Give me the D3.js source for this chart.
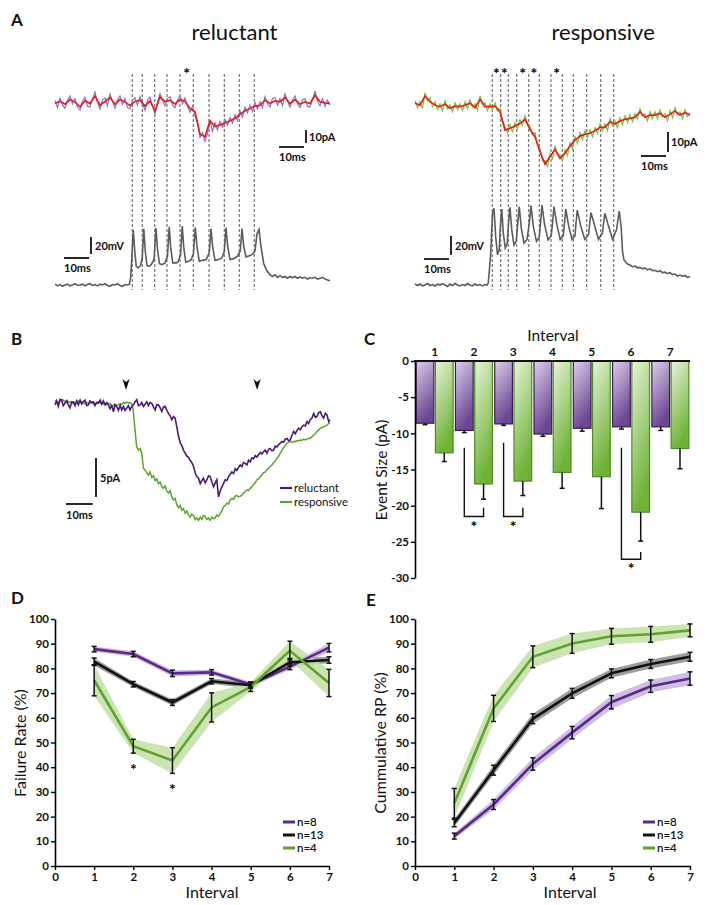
<!DOCTYPE html>
<html><head><meta charset="utf-8">
<script src="https://cdn.jsdelivr.net/npm/d3@7"></script>
<style>body{margin:0;background:#fff} svg text{font-family:Lato,"Open Sans",sans-serif;fill:#111}</style>
</head><body><svg id="fig" width="707" height="905"></svg>
<script>
// ---------- DATA ----------
// Panel A: current traces (pA), raw sampled every 1 ms, smoothed every 2 ms
const relRaw = [1.5,-4,3.5,-2,-4.5,2,5,-1,3,-3.5,
-6,1,4,-3,-3.5,3,8,0,-5,2,
3.5,-2.5,6.5,1,-4.5,2,5,-1.5,3,-4,
-5,1.5,3.5,-2,4.5,-1,-6,2,4,-3,
-9,0,7,1.5,-2.5,3,4.5,-2,-4,2,
5,-1,3.5,-3,-7.5,-3,-10,-15,-27,-23,
-30,-24,-14,-22,-15.5,-21,-14.5,-19,-13,-17.5,
-11.5,-16,-9.5,-14,-6.5,-11,-3.5,-8,-2,-7,
0,-5,0.5,-4,4.5,-1,-3.5,3,4,-2,
3,-2.5,6.5,1,-3.5,2,5,-1,-4,2,
3,-3,-3.5,2,9,1,-2.5,3,-3,2,-2];
const relSmooth = [-0.8,1.0,-1.3,2.3,0.3,-3.3,1.3,-0.8,4.9,-2.1,
0.8,3.8,-1.3,2.3,0.3,-2.3,0.8,1.8,-2.8,1.3,
-6.4,4.4,0.5,1.8,-1.3,2.3,1.0,-4.6,-7.2,-24.4,
-26.4,-14,-18.5,-17.4,-15.6,-14.1,-12.3,-9.0,-6.4,-4.6,
-2.8,-2.1,1.8,-0.8,1.3,0.5,3.8,-0.8,2.3,-1.3,
0.5,-0.8,5.6,0.5,-0.3,-0.8];
const respRaw = [3,-0.5,2.5,-1,7,3,4.5,0,2.5,-1.5,
1.5,-2,3,-1,1,-2.5,2,-1.5,1.5,-2,
2.5,-1,3.5,0,1.5,-2,5.5,1,2,-2,
1.5,-1.5,2,-2,-1,-7,-10,-13,-9,-12.5,
-8,-11,-6.5,-9.5,-4.5,-8,-10,-14,-13,-19,
-21,-27,-27,-30,-23.5,-26,-19.5,-24,-24,-27,
-21.5,-24.5,-18,-21,-15,-18.5,-13,-16.5,-12,-15.5,
-11.5,-15,-10.5,-13.5,-8.5,-12,-8.5,-12,-6,-9.5,
-7,-10.5,-5.5,-9,-4.5,-8,-4,-7.5,-3.5,-6,
-1,-4.5,-3.5,-7,-2.5,-6,-2.5,-6,-1.5,-5,
-3.5,-7,-2,-5.5,-0.5,-4,-2.5,-6,-1.5,-5,-3];
const respSmooth = [1.7,0.8,5.3,2.5,0.8,0,1.3,-0.8,0.3,0,
0.8,1.7,-0.5,3.7,0,0,0.3,-2.5,-11.7,-10.8,
-9.7,-8.3,-6.3,-11.3,-15,-22.5,-28.7,-25,-21.3,-25.8,
-23.3,-19.7,-16.7,-14.7,-13.7,-13.3,-12,-10.3,-10.3,-7.5,
-8.7,-7.2,-6.3,-5.8,-5.3,-2.5,-5.3,-4.2,-4.2,-3.3,
-5.3,-3.7,-2.2,-4.2,-3,-4.2];
// stimulus times (ms) and intervals with asterisks
const relStim = [30.9,34.9,39.9,44.8,50,55.3,61.6,67.7,73.7,79.7];
const respStim = [30.9,34.3,37.3,40.7,45.5,49.7,54.4,58.9,63.3,68.7,74.3,79.5];
const relStars = [5];
const respStars = [1,2,4,5,7];
// voltage traces [ms, mV]
const relVm = [[0,-69],[1,-71],[2,-69.5],[3,-71.5],[4,-70],[5,-69],[6,-71],[7,-70],[8,-68.5],[9,-70.5],[10,-70],[11,-69],[12,-71],[13,-69.5],[14,-68.5],[15,-70.5],[16,-69.5],[17,-71],[18,-69],[19,-70],[20,-68.5],[21,-70.5],[22,-71.5],[23,-69.5],[24,-70],[25,-68.5],[26,-70.5],[27,-71.5],[28,-69.5],[29,-70],[29.8,-69],
[30.3,-60],[30.7,-40],[31.3,-5],[31.9,-30],[32.5,-48],[33.3,-50],[34.2,-47],[34.9,-38],[35.5,-4],[36.1,-30],[36.8,-47],[37.5,-48],[38.5,-46],[39.6,-40],[40.4,-3],[41.0,-28],[41.8,-45],[42.8,-46],[44.0,-44],[45.0,-36],[45.7,-1.5],[46.3,-27],[47.1,-44],[48.5,-44],[49.2,-43],[50.2,-35],[50.9,-0.8],[51.5,-26],[52.3,-43],[53.5,-42],[54.5,-40],[55.4,-33],[56.1,-2],[56.8,-25],[57.7,-42],[59,-41],[60.5,-40],[61.7,-32],[62.4,-4],[63.1,-26],[64,-41],[65.5,-40],[66.8,-38],[67.7,-31],[68.4,-2.5],[69.1,-25],[70,-40],[71.5,-39],[73,-36],[74.1,-30],[74.8,-3.5],[75.5,-25],[76.4,-37],[77.5,-36],[79,-34],[80,-30],[80.8,-10],[81.6,-4.5],[82.4,-25],[83.5,-45],[84.7,-53],[86,-58],[87,-60],[88,-58],[89,-61],[90,-59],[91,-61],[92,-60],[93,-62],[94,-60],[95,-61.5],[96,-60],[97,-62],[98,-60.5],[99,-62],[100,-61],[101,-63],[102,-61.5],[103,-62],[104,-61],[105,-63],[106,-62],[107,-61],[108,-63],[109,-64],[110,-65]];
const respVm = [[0,-69],[1,-70.5],[2,-69],[3,-71],[4,-70],[5,-68.5],[6,-70.5],[7,-69.5],[8,-71],[9,-69],[10,-70],[11,-68.5],[12,-70],[13,-71.5],[14,-69],[15,-70.5],[16,-68.5],[17,-70],[18,-71],[19,-69.5],[20,-70.5],[21,-68.5],[22,-70],[23,-71],[24,-69],[25,-70.5],[26,-69.5],[27,-71],[28,-69.5],[28.8,-70],
[29.3,-68],[30.2,-40],[31.0,5],[31.6,10.7],[32.3,-20],[33.0,-38],[33.7,-33],[34.1,-10],[34.7,10],[35.3,-15],[36.1,-31],[36.9,-26],[37.4,-5],[38,11.8],[38.7,-12],[39.6,-28],[40.5,-24],[41.1,-5],[41.7,12.5],[42.5,-10],[43.6,-26],[44.8,-22],[45.7,-5],[46.4,13.5],[47.3,-8],[48.6,-24],[49.7,-20],[50.2,-5],[50.8,14.2],[51.8,-6],[53.2,-22.6],[54.5,-18],[55.0,-5],[55.6,12.5],[56.7,-6],[58.1,-22],[59.3,-18],[59.8,-5],[60.3,10],[61.4,-7],[62.8,-22],[64.0,-18],[64.4,-5],[64.9,8.9],[66.2,-7],[67.9,-22],[69.4,-17],[69.9,-5],[70.4,6.1],[71.8,-7],[73.4,-22],[75.0,-15],[75.5,-3],[76,5.4],[77.4,-8],[79,-21.9],[80.6,-12],[81.2,-1],[81.7,7.9],[82.5,-10],[83.0,-35],[83.6,-43.7],[85,-48],[86,-49],[87,-51],[88,-50],[89,-52],[90,-51.5],[91,-53],[92,-52],[93,-54],[94,-53],[95,-55],[96,-54.5],[97,-56],[98,-55],[99,-57],[100,-56.5],[101,-58],[102,-57],[103,-59],[104,-58.5],[105,-60.5],[106,-59.5],[107,-61],[108,-60],[109,-62],[110,-61]];

// Panel B: average traces [ms, pA]
const avgReluctant = [[0,-0.2],[0.6,0.3],[1.25,-0.4],[1.9,0.5],[2.5,0.4],[3.1,-0.3],[3.75,0],[4.4,0.3],[5.0,-0.2],[5.6,-0.6],[6.3,0.2],[6.9,0.2],[7.5,-0.3],[8.1,0.3],[8.75,-0.2],[9.4,0.4],[10.0,-0.1],[10.6,0.2],[11.25,0.4],[11.9,-0.3],[12.5,-0.2],[13.1,0.3],[13.75,0.1],[14.4,0.2],[15.0,-0.3],[15.6,0.1],[16.25,0],[16.9,0.4],[17.5,-0.1],[18.1,0.3],[18.75,-0.2],[19.4,0.1],[20,-0.2],[20.6,-0.7],[21.25,-0.3],[21.9,-1.1],[22.5,-0.2],[23.1,-0.4],[23.75,-0.9],[24.4,-0.3],[25,-0.85],[25.6,-0.4],[26.25,-0.9],[26.9,-0.6],[27.5,-0.3],[28.1,-0.85],[28.75,-0.4],[29.4,-0.2],[30.0,0.2],[30.6,0.45],[31.25,-0.3],[31.9,-0.2],[32.5,0.1],[33.1,-0.4],[33.75,-0.1],[34.4,0.2],[35,-0.3],[35.6,0.1],[36.25,0],[36.9,-0.5],[37.5,-0.85],[38.1,-0.2],[38.75,-0.2],[39.4,-0.6],[40,-1.05],[40.6,-0.5],[41.25,-0.4],[41.9,-0.9],[42.5,-1.3],[43.1,-1.6],[43.75,-2.1],[44.4,-1.7],[45,-1.9],[45.6,-3.0],[46.25,-4.2],[46.9,-5.1],[47.5,-5.4],[48.1,-6.0],[48.75,-6.4],[49.4,-6.8],[50,-6.9],[50.6,-7.3],[51.25,-7.6],[51.9,-8.1],[52.5,-8.9],[53.1,-9.4],[53.75,-9.6],[54.4,-10.3],[55,-9.9],[55.6,-9.6],[56.25,-10.2],[56.9,-9.8],[57.5,-9.3],[58.1,-9.4],[58.75,-10.1],[59.4,-10.7],[60,-10.2],[60.6,-9.8],[61.25,-12.0],[61.9,-11.2],[62.5,-10.7],[63.1,-10.3],[63.75,-9.8],[64.4,-9.9],[65,-9.4],[65.6,-9.1],[66.25,-8.8],[66.9,-9.0],[67.5,-8.4],[68.1,-8.6],[68.75,-8.2],[69.4,-7.9],[70,-8.1],[70.6,-7.6],[71.25,-7.7],[71.9,-7.9],[72.5,-7.3],[73.1,-7.5],[73.75,-7.0],[74.4,-7.1],[75,-6.7],[75.6,-6.9],[76.25,-6.6],[76.9,-6.3],[77.5,-6.5],[78.1,-6.2],[78.75,-6.0],[79.4,-6.4],[80,-5.9],[80.6,-5.8],[81.25,-6.1],[81.9,-6.0],[82.5,-5.5],[83.1,-5.6],[83.75,-5.3],[84.4,-5.1],[85,-4.9],[85.6,-5.0],[86.25,-4.6],[86.9,-4.5],[87.5,-4.8],[88.1,-4.7],[88.75,-4.1],[89.4,-3.6],[90,-3.9],[90.6,-3.5],[91.25,-3.2],[91.9,-3.4],[92.5,-3.0],[93.1,-2.8],[93.75,-2.9],[94.4,-2.35],[95,-2.6],[95.6,-2.1],[96.25,-1.9],[96.9,-1.3],[97.5,-1.8],[98.1,-1.7],[98.75,-1.2],[99.4,-1.1],[100,-1.6],[100.6,-1.9],[101.25,-1.3],[101.9,-1.5],[102.5,-2.35],[103,-2.1]];
const avgResponsive = [[0,0.4],[0.9,0.1],[1.9,0.3],[2.8,0.5],[3.75,0.2],[4.4,0.4],[5.3,0.1],[6.25,0.2],[6.9,-0.1],[7.8,0.1],[8.75,0.3],[9.4,0.1],[10.3,0.2],[11.25,-0.1],[11.9,0.1],[12.8,0.0],[13.75,0.1],[14.4,-0.1],[15.3,0.0],[16.25,0.2],[16.9,0.05],[17.8,-0.1],[18.75,0.0],[19.4,-0.2],[20.0,-0.05],[20.6,0.0],[21.25,-0.4],[21.9,-0.3],[22.5,-0.1],[23.1,-0.3],[23.75,-0.2],[24.4,-0.05],[25.0,-0.15],[25.6,0.1],[26.25,0.0],[26.9,0.15],[27.5,0.05],[28.1,0.1],[28.75,-0.05],[29.1,-0.5],[29.4,-1.3],[29.8,-2.8],[30.2,-4.2],[30.6,-5.6],[31.25,-6.0],[31.9,-5.8],[32.5,-6.4],[33.1,-8.3],[33.75,-8.6],[34.4,-8.9],[35.0,-9.2],[35.6,-8.8],[36.25,-9.5],[36.9,-9.3],[37.5,-9.9],[38.1,-9.7],[38.75,-10.3],[39.4,-10.1],[40.0,-10.7],[40.6,-10.9],[41.25,-10.6],[41.9,-11.3],[42.5,-11.5],[43.1,-11.2],[43.75,-12.0],[44.4,-12.4],[45.0,-12.2],[45.6,-13.0],[46.25,-13.4],[46.9,-13.1],[47.5,-13.7],[48.1,-13.5],[48.75,-14.1],[49.4,-13.8],[50.0,-14.3],[50.6,-14.6],[51.25,-14.2],[51.9,-14.4],[52.5,-14.9],[53.1,-14.7],[53.75,-15.0],[54.4,-14.6],[55.0,-14.9],[55.6,-14.4],[56.25,-14.5],[56.9,-14.9],[57.5,-14.7],[58.1,-15.0],[58.75,-14.6],[59.4,-14.8],[60.0,-14.7],[60.6,-14.3],[61.25,-14.5],[61.9,-14.1],[62.5,-13.8],[63.1,-13.3],[63.75,-13.1],[64.4,-12.8],[65.0,-12.9],[65.6,-12.4],[66.25,-12.2],[66.9,-12.3],[67.5,-11.9],[68.1,-11.8],[68.75,-12.0],[69.4,-11.9],[70.0,-11.8],[70.6,-11.5],[71.25,-11.3],[71.9,-11.1],[72.5,-11.2],[73.1,-10.9],[73.75,-10.7],[74.4,-10.4],[75.0,-10.2],[75.6,-9.8],[76.25,-9.7],[76.9,-9.4],[77.5,-9.2],[78.1,-8.9],[78.75,-8.8],[79.4,-8.5],[80.0,-8.3],[80.6,-8.1],[81.25,-7.9],[81.9,-7.6],[82.5,-7.4],[83.1,-7.05],[83.75,-6.8],[84.4,-6.4],[85.0,-6.0],[85.6,-5.7],[86.25,-5.4],[86.9,-5.1],[87.5,-5.0],[88.1,-4.9],[88.75,-5.0],[89.4,-4.9],[90.0,-4.9],[90.6,-4.8],[91.25,-4.8],[91.9,-4.7],[92.5,-4.75],[93.1,-4.6],[93.75,-4.7],[94.4,-4.6],[95.0,-4.5],[95.6,-4.5],[96.25,-4.3],[96.9,-4.06],[97.5,-3.9],[98.1,-3.6],[98.75,-3.4],[99.4,-3.2],[100.0,-3.1],[100.6,-3.0],[101.25,-2.9],[101.9,-2.8],[102.5,-2.6],[103,-2.56]];
const arrowTimes = [26.6, 75.7];

// Panel C: event size (pA)
const intervals = [1,2,3,4,5,6,7];
const evReluctant = [-8.6,-9.6,-8.7,-10.1,-9.3,-9.1,-9.1];
const evReluctantErr = [0.2,0.3,0.2,0.3,0.4,0.3,0.5];
const evResponsive = [-12.7,-17.0,-16.6,-15.4,-16.0,-20.9,-12.1];
const evResponsiveErr = [1.2,2.1,2.0,2.2,4.4,4.0,2.8];
const sigIntervals = [2,3,6];
const sigTop = [-12.0,-11.3,-12.0];
const sigBottom = [-21.5,-21.5,-27.4];
const sigRightTop = [-20.3,-20.3,-26.4];
const evTicks = [0,-5,-10,-15,-20,-25,-30];

// Panel D: failure rate (%)
const failReluctant = [87.8,85.8,78.0,78.4,73.5,80.7,88.4];
const failReluctantErr = [1.1,1.1,1.3,1.1,1.0,1.2,1.7];
const failAll = [82.7,73.6,66.2,74.8,73.2,82.5,83.4];
const failAllErr = [1.5,1.1,1.2,1.1,1.2,1.5,1.3];
const failResponsive = [75.2,48.5,42.7,64.2,72.5,87.2,74.1];
const failResponsiveErr = [6.3,2.8,5.2,5.9,1.8,3.8,5.5];
const failStars = [2,3];
const failStarY = [40.5,32.4];

// Panel E: cumulative RP (%)
const cumReluctant = [12.1,24.9,41.3,54.0,66.3,72.8,75.9];
const cumReluctantErr = [1.2,2.0,2.5,2.5,2.7,2.5,2.7];
const cumAll = [17.4,38.8,59.6,69.9,78.0,81.8,84.7];
const cumAllErr = [1.5,2.0,2.0,2.0,1.8,1.8,1.8];
const cumResponsive = [25.4,63.8,84.7,90.1,93.0,93.8,95.4];
const cumResponsiveErr = [6.0,5.3,4.4,4.0,3.2,3.2,2.6];

const legendLabels = ["n=8","n=13","n=4"];
const pctTicks = [0,10,20,30,40,50,60,70,80,90,100];
const intTicks = [0,1,2,3,4,5,6,7];

// ---------- STYLE ----------
const C_PURPLE = "#5a2a88", C_BLACK = "#111", C_GREEN = "#5da42d";
const B_PURPLE = "#c7b1df", B_BLACK = "#8c8c8c", B_GREEN = "#c3dfa5";

const svg = d3.select("#fig");
svg.append("rect").attr("width",707).attr("height",905).attr("fill","#fff");
const defs = svg.append("defs");
function grad(id, c0, c1){
  const g = defs.append("linearGradient").attr("id",id).attr("x1",0).attr("y1",0).attr("x2",0.35).attr("y2",1);
  g.append("stop").attr("offset","0%").attr("stop-color",c0);
  g.append("stop").attr("offset","100%").attr("stop-color",c1);
}
grad("gP","#dccfea","#6c4692");
grad("gG","#e8f3da","#6fb236");

function txt(x,y,s,size,weight,anchor){
  return svg.append("text").attr("x",x).attr("y",y).attr("font-size",size)
    .attr("font-weight",weight||"normal").attr("text-anchor",anchor||"start").attr("fill","#111").text(s);
}
function star(x,y){
  return txt(x,y,"*",16,"bold","middle").attr("font-family","Arial, 'Liberation Sans', sans-serif").style("fill","#000");
}
function hline(x1,x2,y,w){svg.append("line").attr("x1",x1).attr("x2",x2).attr("y1",y).attr("y2",y).attr("stroke","#111").attr("stroke-width",w||1.6);}
function vline(x,y1,y2,w){svg.append("line").attr("x1",x).attr("x2",x).attr("y1",y1).attr("y2",y2).attr("stroke","#111").attr("stroke-width",w||1.6);}

// ---------- PANEL LETTERS ----------
[["A",11,26],["B",11,345],["C",364,345],["D",11,604],["E",366,606]].forEach(([l,x,y])=>{
  txt(x,y,l,17,"bold").attr("font-family","Arial, 'Liberation Sans', sans-serif");
});

// ---------- PANEL A ----------
function panelA(cfg){
  const x = d3.scaleLinear([0,110],[cfg.x0,cfg.x0+275]);
  const yI = d3.scaleLinear([0,10],[cfg.iBase,cfg.iBase-cfg.iPx]);
  const yV = d3.scaleLinear([-70,-50],[285,285-cfg.vPx]);
  txt((cfg.x0+cfg.x0+275)/2 - 1, 40, cfg.title, 22);
  svg.append("g").selectAll("line").data(cfg.stim).join("line")
    .attr("x1",d=>x(d)).attr("x2",d=>x(d)).attr("y1",74).attr("y2",290)
    .attr("stroke","#555").attr("stroke-width",1).attr("stroke-dasharray","3,2");
  cfg.stars.forEach(d=>{ star((x(cfg.stim[d-1])+x(cfg.stim[d]))/2, 79); });
  svg.append("path").datum(cfg.raw).attr("fill","none").attr("stroke",cfg.rawColor).attr("stroke-width",1.2)
    .attr("d",d3.line().x((d,i)=>x(i)).y(d=>yI(d)));
  svg.append("path").datum(cfg.smooth).attr("fill","none").attr("stroke","#e3211c").attr("stroke-width",1.7)
    .attr("d",d3.line().x((d,i)=>x(i*2)).y(d=>yI(d)));
  svg.append("path").datum(cfg.vm).attr("fill","none").attr("stroke","#5c5c5c").attr("stroke-width",1.6)
    .attr("d",d3.line().x(d=>x(d[0])).y(d=>yV(d[1])));
  const ms10 = x(10)-x(0), pa10 = yI(0)-yI(10), mv20 = yV(-70)-yV(-50);
  vline(cfg.iBarX, cfg.iBarY, cfg.iBarY+pa10, 1.8);
  txt(cfg.iBarX+3, cfg.iBarY+pa10/2+4, "10pA", 11, "bold");
  hline(cfg.iBarX-2-ms10, cfg.iBarX-2, cfg.iBarY+pa10+4, 1.8);
  txt(cfg.iBarX-2-ms10, cfg.iBarY+pa10+18, "10ms", 11, "bold");
  vline(cfg.vBarX, cfg.vBarY, cfg.vBarY+mv20, 1.8);
  txt(cfg.vBarX+4, cfg.vBarY+mv20/2+4, "20mV", 11, "bold");
  hline(cfg.vBarX-2-ms10, cfg.vBarX-2, cfg.vBarY+mv20+4, 1.8);
  txt(cfg.vBarX-2-ms10, cfg.vBarY+mv20+18, "10ms", 11, "bold");
}
panelA({x0:55, title:"reluctant", iBase:102.5, iPx:13, vPx:17, stim:relStim, stars:relStars,
  raw:relRaw, smooth:relSmooth, vm:relVm, rawColor:"#9273c8", iBarX:306, iBarY:130, vBarX:91, vBarY:237});
panelA({x0:415, title:"responsive", iBase:106.7, iPx:20, vPx:19, stim:respStim, stars:respStars,
  raw:respRaw, smooth:respSmooth, vm:respVm, rawColor:"#7dc242", iBarX:668, iBarY:132, vBarX:451, vBarY:236});

// ---------- PANEL B ----------
{
  const x = d3.scaleLinear([0,103],[55,330]);
  const y = d3.scaleLinear([0,-5],[403.3,442.3]);
  const line = d3.line().x(d=>x(d[0])).y(d=>y(d[1]));
  svg.append("path").datum(avgResponsive).attr("fill","none").attr("stroke",C_GREEN).attr("stroke-width",1.5).attr("d",line);
  svg.append("path").datum(avgReluctant).attr("fill","none").attr("stroke","#4a1a78").attr("stroke-width",1.6).attr("d",line);
  svg.append("g").selectAll("path").data(arrowTimes).join("path")
    .attr("transform",d=>`translate(${x(d)},385)`).attr("d","M-3.6,-6 L0,-3 L3.6,-6 L0,5 Z").attr("fill","#111");
  const ms10 = x(10)-x(0), pa5 = y(-5)-y(0);
  vline(96, 458, 458+pa5, 1.8);
  txt(100, 482, "5pA", 11, "bold");
  hline(66, 66+ms10, 504, 1.8);
  txt(66, 519, "10ms", 11, "bold");
  [["reluctant","#4a1a78",488],["responsive",C_GREEN,502]].forEach(([l,c,yy])=>{
    svg.append("line").attr("x1",280).attr("x2",292).attr("y1",yy).attr("y2",yy).attr("stroke",c).attr("stroke-width",2.2);
    txt(294, yy+4, l, 11.5);
  });
}

// ---------- PANEL C ----------
{
  const x = d3.scaleBand(intervals,[415,690]);
  const sub = d3.scaleBand(["rel","resp"],[0,x.bandwidth()]).paddingInner(0.08).paddingOuter(0.06);
  const y = d3.scaleLinear([0,-30],[361,578]);
  const g = svg.append("g");
  g.selectAll("rect.p").data(intervals).join("rect").attr("class","p")
    .attr("x",(d,i)=>x(d)+sub("rel")).attr("width",sub.bandwidth())
    .attr("y",y(0)).attr("height",(d,i)=>y(evReluctant[i])-y(0))
    .attr("fill","url(#gP)").attr("stroke","#3a1a5c").attr("stroke-width",1.2);
  g.selectAll("rect.g").data(intervals).join("rect").attr("class","g")
    .attr("x",(d,i)=>x(d)+sub("resp")).attr("width",sub.bandwidth())
    .attr("y",y(0)).attr("height",(d,i)=>y(evResponsive[i])-y(0))
    .attr("fill","url(#gG)").attr("stroke","#4d8e1f").attr("stroke-width",1.2);
  function err(vals, errs, key){
    intervals.forEach((d,i)=>{
      const cx = x(d)+sub(key)+sub.bandwidth()/2;
      vline(cx, y(vals[i]), y(vals[i]-errs[i]), 1.5);
      hline(cx-2.5, cx+2.5, y(vals[i]-errs[i]), 1.5);
    });
  }
  err(evReluctant, evReluctantErr, "rel");
  err(evResponsive, evResponsiveErr, "resp");
  sigIntervals.forEach((d,i)=>{
    const xl = x(d)+sub("rel")+sub.bandwidth()/2, xr = x(d)+sub("resp")+sub.bandwidth()/2;
    svg.append("path").attr("fill","none").attr("stroke","#111").attr("stroke-width",1.4)
      .attr("d",`M${xl},${y(sigTop[i])} L${xl},${y(sigBottom[i])} L${xr},${y(sigBottom[i])} L${xr},${y(sigRightTop[i])}`);
    star((xl+xr)/2, y(sigBottom[i])+15);
  });
  const ya = svg.append("g").attr("transform","translate(415,0)")
    .call(d3.axisLeft(y).tickValues(evTicks).tickSize(4).tickSizeOuter(0).tickPadding(2).tickFormat(d=>String(d)));
  ya.select(".domain").attr("stroke-width",1.6);
  ya.selectAll(".tick line").attr("stroke-width",1.4);
  ya.selectAll("text").attr("font-size",11.5).attr("font-weight","bold").attr("fill","#111").attr("font-family","Lato, sans-serif");
  hline(414, 690, 361, 2);
  intervals.forEach(d=>{ txt(x(d)+x.bandwidth()/2, 356, String(d), 12, "bold", "middle"); });
  txt(553, 341, "Interval", 15.5, "normal", "middle");
  svg.append("text").attr("transform","translate(387,470) rotate(-90)").attr("text-anchor","middle")
    .attr("font-size",15.5).attr("fill","#111").text("Event Size (pA)");
}

// ---------- PANELS D & E ----------
function linePanel(cfg){
  const x = d3.scaleLinear([0,7],[cfg.x0,cfg.x1]);
  const y = d3.scaleLinear([0,100],[866,619]);
  const series = [[cfg.rel,cfg.relErr,C_PURPLE,B_PURPLE],[cfg.all,cfg.allErr,C_BLACK,B_BLACK],[cfg.resp,cfg.respErr,C_GREEN,B_GREEN]];
  series.forEach(([v,e,c,b])=>{
    svg.append("path").datum(v).attr("fill",b).attr("opacity",0.85)
      .attr("d",d3.area().x((d,i)=>x(i+1)).y0((d,i)=>y(d-e[i])).y1((d,i)=>y(d+e[i])));
  });
  series.forEach(([v,e,c,b])=>{
    svg.append("path").datum(v).attr("fill","none").attr("stroke",c).attr("stroke-width",2.6)
      .attr("d",d3.line().x((d,i)=>x(i+1)).y(d=>y(d)));
  });
  series.forEach(([v,e,c,b])=>{
    v.forEach((d,i)=>{
      const cx = x(i+1);
      vline(cx, y(d-e[i]), y(d+e[i]), 1.5);
      hline(cx-2.5, cx+2.5, y(d-e[i]), 1.5);
      hline(cx-2.5, cx+2.5, y(d+e[i]), 1.5);
    });
  });
  const ya = svg.append("g").attr("transform",`translate(${cfg.x0},0)`)
    .call(d3.axisLeft(y).tickValues(pctTicks).tickSize(4).tickSizeOuter(0).tickPadding(2));
  const xa = svg.append("g").attr("transform","translate(0,866)")
    .call(d3.axisBottom(x).tickValues(intTicks).tickSize(4).tickSizeOuter(0).tickPadding(3).tickFormat(d3.format("d")));
  [ya,xa].forEach(a=>{
    a.select(".domain").attr("stroke-width",1.6);
    a.selectAll(".tick line").attr("stroke-width",1.4);
    a.selectAll("text").attr("font-size",11.5).attr("font-weight","bold").attr("fill","#111").attr("font-family","Lato, sans-serif");
  });
  txt(cfg.intX, 898, "Interval", 16, "normal", "middle");
  svg.append("text").attr("transform",`translate(${cfg.labX},743) rotate(-90)`).attr("text-anchor","middle")
    .attr("font-size",16).attr("fill","#111").text(cfg.ylabel);
  [C_PURPLE,C_BLACK,C_GREEN].forEach((c,i)=>{
    const yy = [822,835,848][i];
    svg.append("line").attr("x1",cfg.legX).attr("x2",cfg.legX+12).attr("y1",yy).attr("y2",yy).attr("stroke",c).attr("stroke-width",3);
    txt(cfg.legX+14, yy+4, legendLabels[i], 11.5, "600");
  });
  return {x,y};
}
const D = linePanel({x0:55,x1:329,rel:failReluctant,relErr:failReluctantErr,all:failAll,allErr:failAllErr,
  resp:failResponsive,respErr:failResponsiveErr,intX:212,labX:26,ylabel:"Failure Rate (%)",legX:283});
failStars.forEach((s,i)=>{ star(D.x(s), D.y(failStarY[i])+9); });
linePanel({x0:415,x1:690,rel:cumReluctant,relErr:cumReluctantErr,all:cumAll,allErr:cumAllErr,
  resp:cumResponsive,respErr:cumResponsiveErr,intX:570,labX:386,ylabel:"Cummulative RP (%)",legX:643});
</script></body></html>
